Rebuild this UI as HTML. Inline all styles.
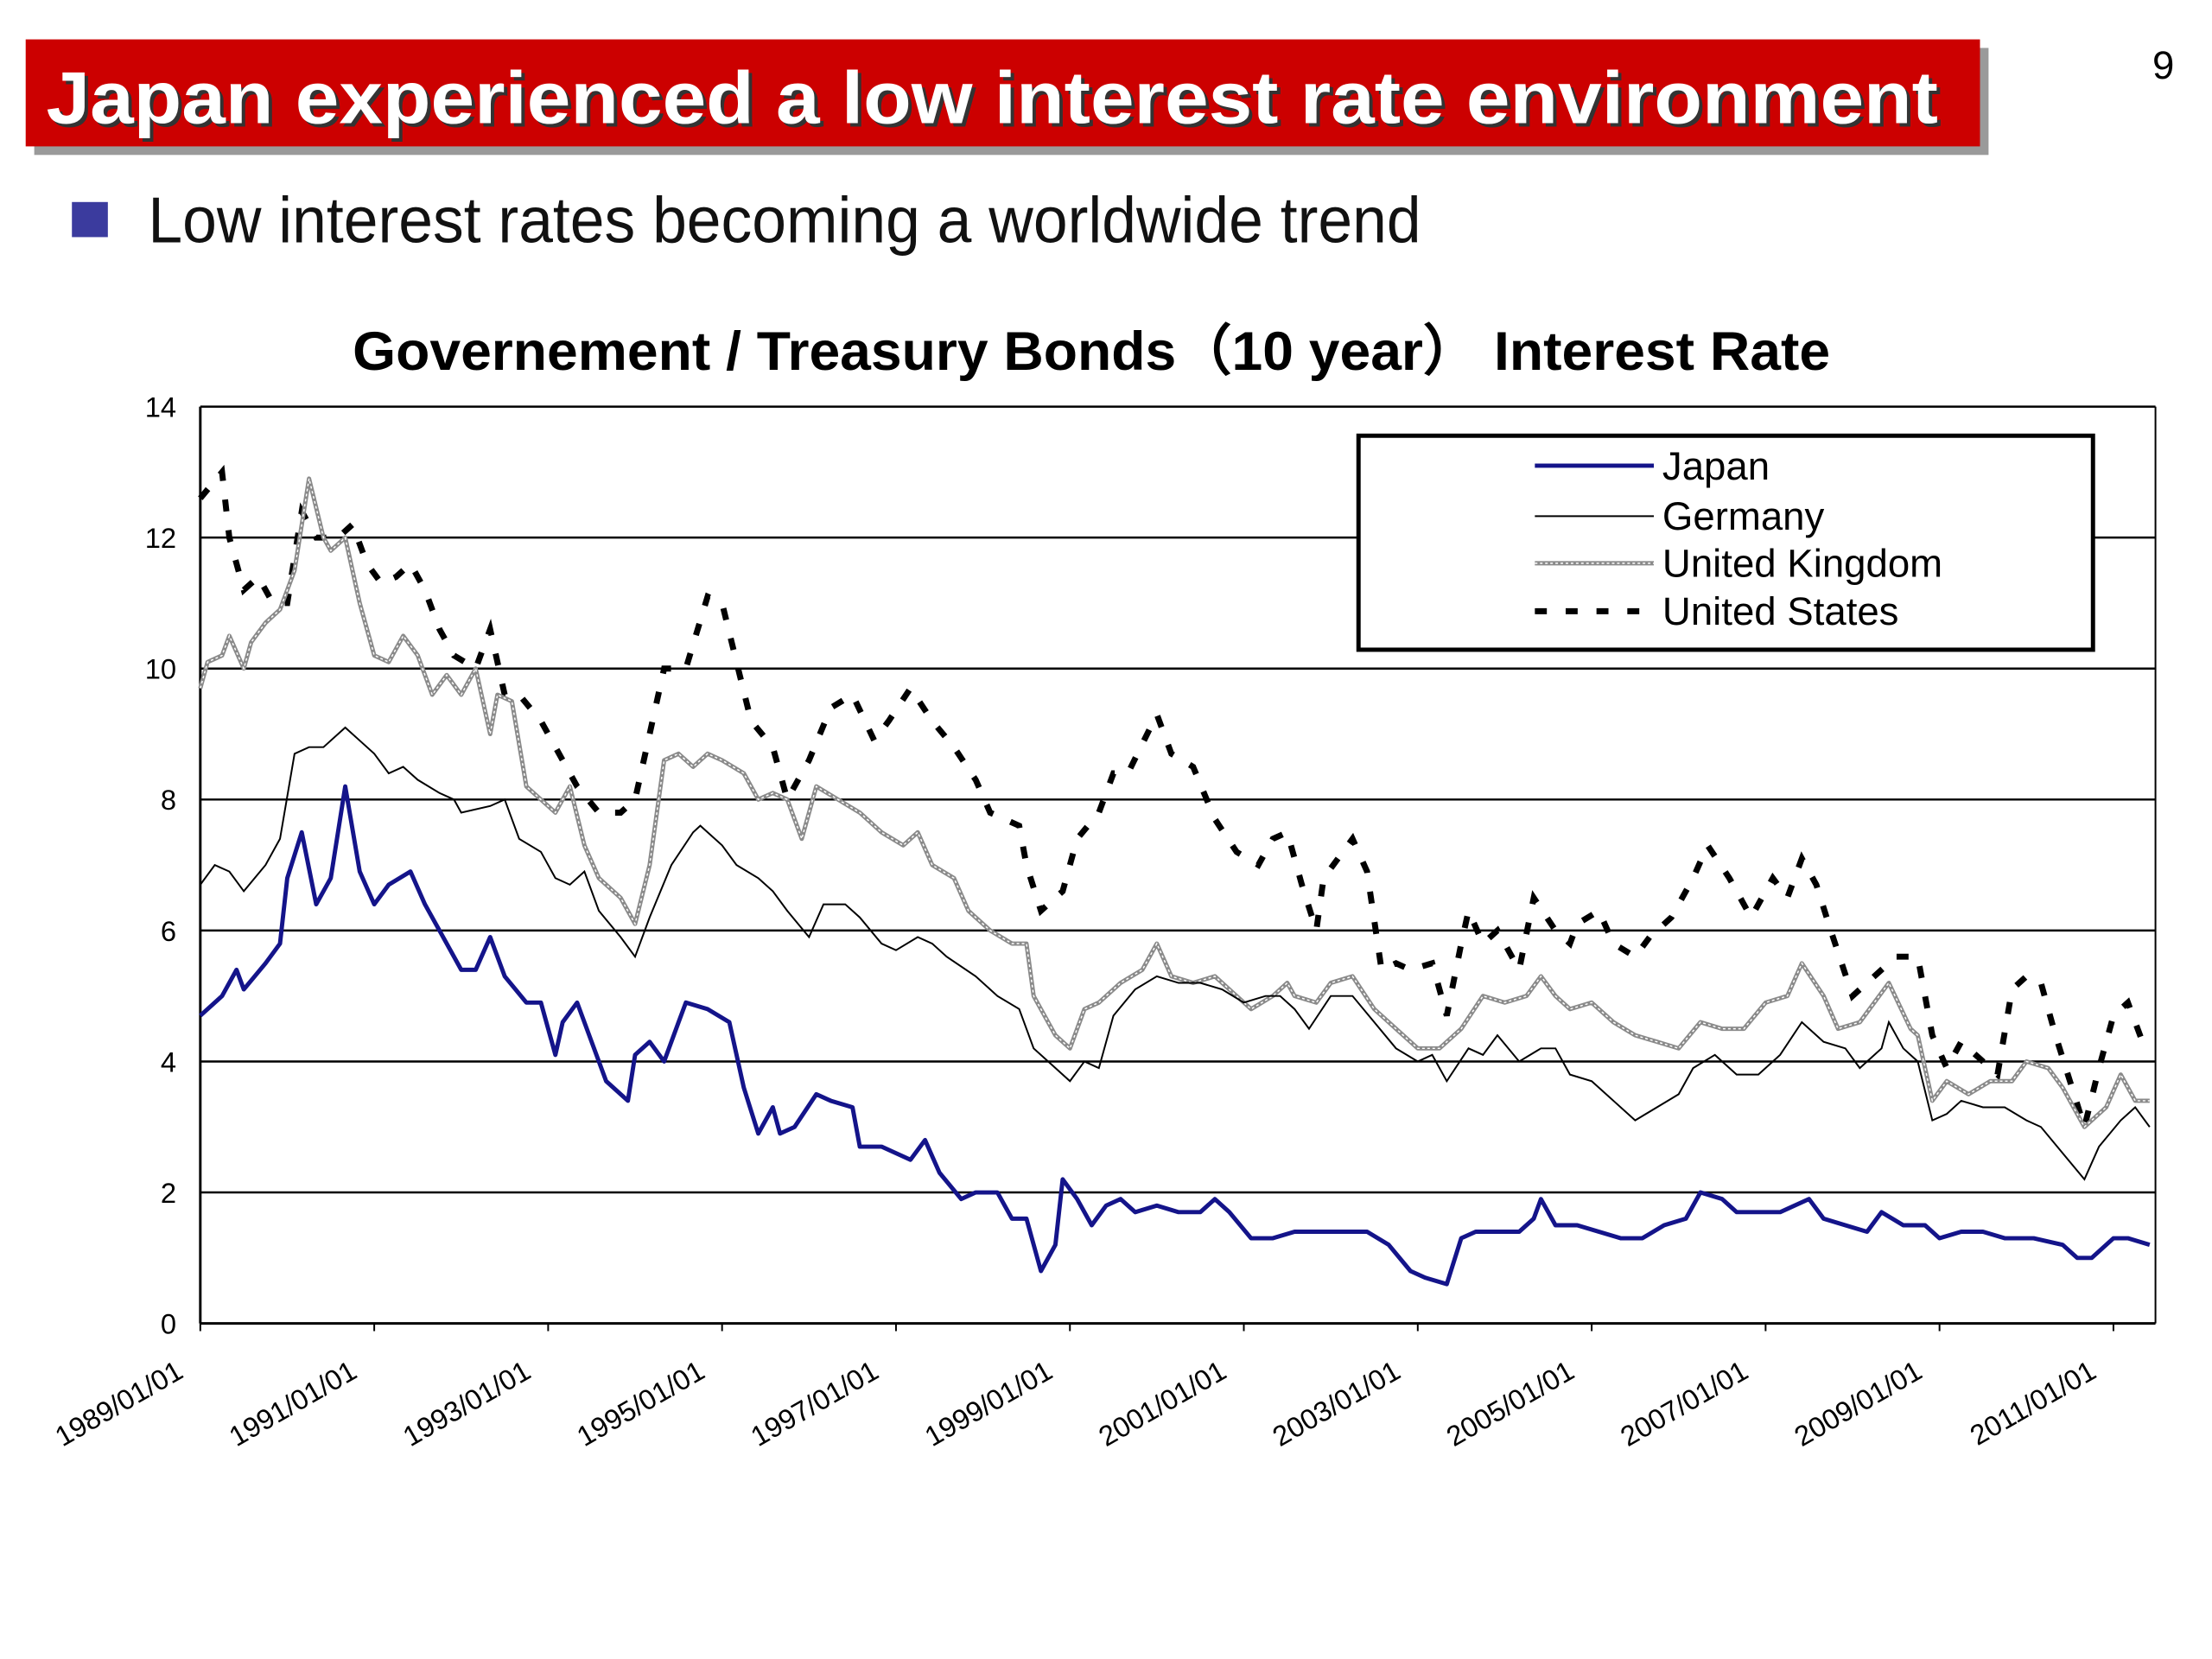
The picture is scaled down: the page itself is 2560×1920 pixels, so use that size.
<!DOCTYPE html>
<html><head><meta charset="utf-8"><style>
html,body{margin:0;padding:0;background:#fff;}
svg{display:block;font-family:"Liberation Sans",sans-serif;}
</style></head><body>
<svg id="chart" width="2560" height="1920" viewBox="0 0 2560 1920">
<g transform="scale(0.9907)">
<rect x="40" y="56" width="2283" height="125" fill="#9a9a9a"/>
<rect x="30" y="46" width="2283" height="125" fill="#cc0000"/>
<text x="58" y="148" font-size="86" font-weight="bold" fill="#333" textLength="2210" lengthAdjust="spacingAndGlyphs">Japan experienced a low interest rate environment</text>
<text x="54" y="144" font-size="86" font-weight="bold" fill="#fff" textLength="2210" lengthAdjust="spacingAndGlyphs">Japan experienced a low interest rate environment</text>
<text x="2540" y="92" font-size="46" fill="#000" text-anchor="end">9</text>
<rect x="84" y="236" width="42" height="41" fill="#3b3b9e"/>
<text x="173" y="283" font-size="76" fill="#111" textLength="1487" lengthAdjust="spacingAndGlyphs">Low interest rates becoming a worldwide trend</text>
<text x="412" y="432" font-size="64" font-weight="bold" fill="#000" textLength="1726" lengthAdjust="spacingAndGlyphs">Governement / Treasury Bonds（10 year）  Interest Rate</text>
<g id="grid"></g>
<g id="axes"></g>
<g id="series"></g>
<g id="legend"></g>
</g>
</svg>
<script>
const yTicks=[0,2,4,6,8,10,12,14];
const xTickLabels=["1989/01/01","1991/01/01","1993/01/01","1995/01/01","1997/01/01","1999/01/01","2001/01/01","2003/01/01","2005/01/01","2007/01/01","2009/01/01","2011/01/01"];
const xTickMonths=[0,24,48,72,96,120,144,168,192,216,240,264];
const japanMonths=[0,3,5,6,9,11,12,14,16,18,20,22,24,26,29,31,33,36,38,40,42,45,47,49,50,52,54,56,59,60,62,64,66,67,70,73,75,77,79,80,82,85,87,90,91,94,96,98,100,102,105,107,110,112,114,116,118,119,121,123,125,127,129,132,135,138,140,142,145,148,151,154,157,161,164,167,169,172,174,176,179,182,184,185,187,190,193,196,199,202,205,207,210,212,215,218,222,224,227,230,232,235,238,240,243,246,249,253,257,259,261,264,266,269];
const japanValues=[4.7,5.0,5.4,5.1,5.5,5.8,6.8,7.5,6.4,6.8,8.2,6.9,6.4,6.7,6.9,6.4,6.0,5.4,5.4,5.9,5.3,4.9,4.9,4.1,4.6,4.9,4.3,3.7,3.4,4.1,4.3,4.0,4.6,4.9,4.8,4.6,3.6,2.9,3.3,2.9,3.0,3.5,3.4,3.3,2.7,2.7,2.6,2.5,2.8,2.3,1.9,2.0,2.0,1.6,1.6,0.8,1.2,2.2,1.9,1.5,1.8,1.9,1.7,1.8,1.7,1.7,1.9,1.7,1.3,1.3,1.4,1.4,1.4,1.4,1.2,0.8,0.7,0.6,1.3,1.4,1.4,1.4,1.6,1.9,1.5,1.5,1.4,1.3,1.3,1.5,1.6,2.0,1.9,1.7,1.7,1.7,1.9,1.6,1.5,1.4,1.7,1.5,1.5,1.3,1.4,1.4,1.3,1.3,1.2,1.0,1.0,1.3,1.3,1.2];
const germanyMonths=[0,2,4,6,9,11,13,15,17,20,22,24,26,28,30,33,35,36,40,42,44,47,49,51,53,55,58,60,62,65,68,69,72,74,77,79,81,84,86,89,91,94,96,99,101,103,107,110,113,115,117,120,122,124,126,129,132,135,138,141,144,147,149,151,153,156,159,162,165,168,170,172,175,177,179,182,185,187,189,192,195,198,201,204,206,209,212,215,218,221,224,227,229,232,233,235,237,239,241,243,246,249,252,254,257,260,262,265,267,269];
const germanyValues=[6.7,7.0,6.9,6.6,7.0,7.4,8.7,8.8,8.8,9.1,8.9,8.7,8.4,8.5,8.3,8.1,8.0,7.8,7.9,8.0,7.4,7.2,6.8,6.7,6.9,6.3,5.9,5.6,6.2,7.0,7.5,7.6,7.3,7.0,6.8,6.6,6.3,5.9,6.4,6.4,6.2,5.8,5.7,5.9,5.8,5.6,5.3,5.0,4.8,4.2,4.0,3.7,4.0,3.9,4.7,5.1,5.3,5.2,5.2,5.1,4.9,5.0,5.0,4.8,4.5,5.0,5.0,4.6,4.2,4.0,4.1,3.7,4.2,4.1,4.4,4.0,4.2,4.2,3.8,3.7,3.4,3.1,3.3,3.5,3.9,4.1,3.8,3.8,4.1,4.6,4.3,4.2,3.9,4.2,4.6,4.2,4.0,3.1,3.2,3.4,3.3,3.3,3.1,3.0,2.6,2.2,2.7,3.1,3.3,3.0];
const ukMonths=[0,1,3,4,6,7,9,11,13,15,17,18,20,22,24,26,28,30,32,34,36,38,40,41,43,45,47,49,51,53,55,58,60,62,64,66,68,70,72,75,77,79,81,83,85,88,91,94,97,99,101,104,106,109,112,114,115,118,120,122,124,127,130,132,134,137,140,142,145,148,150,151,154,156,159,162,165,168,171,174,177,180,183,185,187,189,192,195,198,201,204,207,210,213,216,219,221,224,226,229,233,236,237,239,241,244,247,250,252,255,257,260,263,265,267,269];
const ukValues=[9.7,10.1,10.2,10.5,10.0,10.4,10.7,10.9,11.5,12.9,12.0,11.8,12.0,11.0,10.2,10.1,10.5,10.2,9.6,9.9,9.6,10.0,9.0,9.6,9.5,8.2,8.0,7.8,8.2,7.3,6.8,6.5,6.1,7.0,8.6,8.7,8.5,8.7,8.6,8.4,8.0,8.1,8.0,7.4,8.2,8.0,7.8,7.5,7.3,7.5,7.0,6.8,6.3,6.0,5.8,5.8,5.0,4.4,4.2,4.8,4.9,5.2,5.4,5.8,5.3,5.2,5.3,5.1,4.8,5.0,5.2,5.0,4.9,5.2,5.3,4.8,4.5,4.2,4.2,4.5,5.0,4.9,5.0,5.3,5.0,4.8,4.9,4.6,4.4,4.3,4.2,4.6,4.5,4.5,4.9,5.0,5.5,5.0,4.5,4.6,5.2,4.5,4.4,3.4,3.7,3.5,3.7,3.7,4.0,3.9,3.6,3.0,3.3,3.8,3.4,3.4];
const usMonths=[0,3,4,6,8,10,12,14,16,19,21,23,25,27,29,31,33,35,38,40,42,44,47,49,52,55,58,60,62,64,67,70,72,74,76,79,81,84,87,90,93,95,98,101,104,107,109,113,114,116,119,121,124,126,128,132,134,137,140,143,146,148,150,152,154,155,157,159,161,163,165,167,170,172,174,175,177,179,182,184,187,189,190,193,195,198,200,203,206,208,211,214,217,219,221,223,225,228,231,234,237,239,241,243,246,248,250,252,254,256,258,260,262,264,266,268];
const usValues=[12.6,13.0,12.0,11.2,11.4,11.0,11.0,12.4,12.0,12.0,12.2,11.6,11.3,11.4,11.6,11.2,10.6,10.2,10.0,10.6,9.6,9.6,9.2,8.8,8.2,7.8,7.8,8.0,9.0,10.0,10.0,11.1,11.0,10.1,9.2,8.8,8.0,8.6,9.4,9.6,8.9,9.2,9.7,9.2,8.8,8.3,7.8,7.6,7.0,6.3,6.6,7.4,7.8,8.4,8.4,9.3,8.7,8.5,7.7,7.2,7.0,7.4,7.5,6.7,6.0,6.8,7.1,7.4,6.9,5.4,5.5,5.4,5.5,4.7,5.8,6.3,5.8,6.0,5.4,6.5,6.0,5.8,6.1,6.3,5.8,5.6,5.9,6.2,6.8,7.3,6.8,6.2,6.8,6.5,7.1,6.7,6.0,5.0,5.3,5.6,5.6,4.4,3.9,4.3,4.0,3.8,5.1,5.3,5.2,4.4,3.7,3.0,3.9,4.7,4.9,4.3];

const NS="http://www.w3.org/2000/svg";
const L=234,R=2518,B=1546,T=475,MAXM=269.8,MAXV=14;
function xOf(m){return L+m*(R-L)/MAXM;}
function yOf(v){return B-v*(B-T)/MAXV;}
function mk(tag,attrs,parent){const e=document.createElementNS(NS,tag);for(const k in attrs)e.setAttribute(k,attrs[k]);parent.appendChild(e);return e;}
const grid=document.getElementById('grid'),axes=document.getElementById('axes'),series=document.getElementById('series'),legend=document.getElementById('legend');
yTicks.forEach(v=>{
  if(v>0){const g=mk('line',{x1:L,x2:R,y1:yOf(v),y2:yOf(v),stroke:'#000','stroke-width':2.5},grid);
  
  }
  const t=mk('text',{x:206,y:yOf(v)+12,'font-size':33,'text-anchor':'end',fill:'#000'},axes);
  t.textContent=v;
  
  
});
const rb=mk('line',{x1:R,x2:R,y1:T,y2:B,stroke:'#000','stroke-width':2},axes);


const ya=mk('line',{x1:L,x2:L,y1:T,y2:B,stroke:'#000','stroke-width':3},axes);


const xa=mk('line',{x1:L,x2:R,y1:B,y2:B,stroke:'#000','stroke-width':3},axes);


xTickMonths.forEach((m,i)=>{
  const x=xOf(m);
  const tk=mk('line',{x1:x,x2:x,y1:B,y2:B+9,stroke:'#000','stroke-width':2},axes);
  
  
  const t=mk('text',{x:x-18,y:B+62,'font-size':33,'text-anchor':'end',fill:'#000',transform:`rotate(-30 ${x-18} ${B+62})`},axes);
  t.textContent=xTickLabels[i];
  
  
});
function pts(ms,vs){return ms.map((m,i)=>xOf(m).toFixed(1)+','+yOf(vs[i]).toFixed(1)).join(' ');}
const us=mk('polyline',{points:pts(usMonths,usValues),fill:'none',stroke:'#000','stroke-width':7,'stroke-dasharray':'14 22'},series);


const uk=mk('polyline',{points:pts(ukMonths,ukValues),fill:'none',stroke:'#8a8a8a','stroke-width':5,'stroke-linejoin':'round'},series);


const uk2=mk('polyline',{points:pts(ukMonths,ukValues),fill:'none',stroke:'#fff','stroke-width':1.5,'stroke-dasharray':'3 3'},series);


const de=mk('polyline',{points:pts(germanyMonths,germanyValues),fill:'none',stroke:'#000','stroke-width':2},series);


const jp=mk('polyline',{points:pts(japanMonths,japanValues),fill:'none',stroke:'#14148a','stroke-width':5,'stroke-linejoin':'round'},series);


const box=mk('rect',{x:1587,y:509,width:858,height:250,fill:'#fff',stroke:'#000','stroke-width':5},legend);


const entries=[['Japan',544,{stroke:'#14148a','stroke-width':5}],['Germany',603,{stroke:'#000','stroke-width':2}],['United Kingdom',658,{stroke:'#8a8a8a','stroke-width':5}],['United States',714,{stroke:'#000','stroke-width':7,'stroke-dasharray':'14 22'}]];
entries.forEach(e=>{
  const g=mk('g',{},legend);
  
  
  mk('line',Object.assign({x1:1793,x2:1932,y1:e[1],y2:e[1]},e[2]),g);
  if(e[0]==='United Kingdom')mk('line',{x1:1793,x2:1932,y1:e[1],y2:e[1],stroke:'#fff','stroke-width':1.5,'stroke-dasharray':'3 3'},g);
  const t=mk('text',{x:1942,y:e[1]+16,'font-size':46,fill:'#000'},g);
  t.textContent=e[0];
});
</script>
</body></html>
